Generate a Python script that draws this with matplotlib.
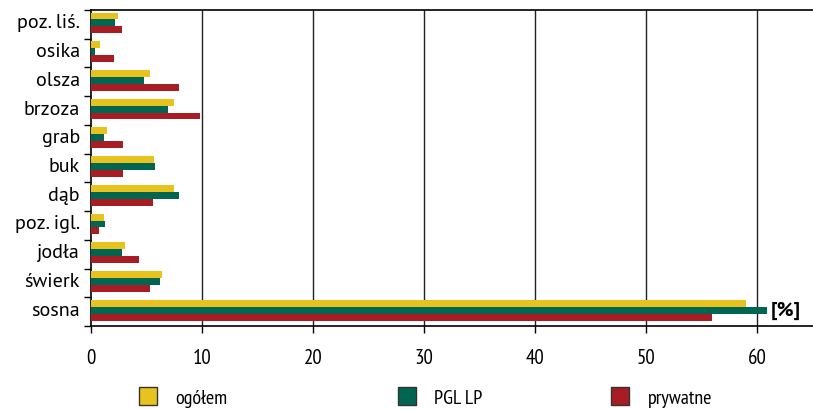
import numpy as np
import matplotlib
matplotlib.use("Agg")
import matplotlib.pyplot as plt
import matplotlib.transforms as mtrans
from matplotlib.patches import Patch

# gatunki od dolu do gory
gatunki = ["sosna", "świerk", "jodła", "poz. igl.", "dąb", "buk",
           "grab", "brzoza", "olsza", "osika", "poz. liś."]
ogolem   = [59.0, 6.35, 3.1, 1.15, 7.45, 5.7, 1.4, 7.45, 5.35, 0.8, 2.4]
pgl_lp   = [60.85, 6.25, 2.75, 1.25, 7.95, 5.8, 1.15, 6.9, 4.75, 0.4, 2.2]
prywatne = [55.95, 5.35, 4.3, 0.7, 5.6, 2.85, 2.85, 9.85, 7.95, 2.1, 2.75]
serie = ["ogółem", "PGL LP", "prywatne"]
kolory = ["#E8C31E", "#006652", "#A81C24"]

plt.rcParams['font.family'] = ['PT Sans', 'DejaVu Sans']
waski = ['PT Sans Narrow', 'DejaVu Sans']

fig = plt.figure(figsize=(8.13, 4.10), dpi=100)
ax = fig.add_axes([91/813, 1-327/410, 1-91/813, 316/410])

y = np.arange(len(gatunki))
h = 0.24
for i, (vals, c) in enumerate(zip([ogolem, pgl_lp, prywatne], kolory)):
    ax.barh(y + 0.05 + (1-i)*h, vals, height=h, color=c, zorder=3)

ax.set_xlim(0, 65)
ax.set_ylim(-0.5, len(gatunki)-0.5)
ax.set_xticks(range(0, 61, 10))
ax.set_yticks(y)
ax.set_yticklabels(gatunki, fontsize=14.5)
ax.set_yticks(np.arange(-0.5, len(gatunki), 1), minor=True)
ax.tick_params(axis='y', which='major', length=0, pad=8)
ax.tick_params(axis='y', which='minor', length=5, direction='out', width=1)
ax.tick_params(axis='x', length=5, width=1, labelsize=15, pad=11)
for lab in ax.get_xticklabels():
    lab.set_fontfamily(waski)
# etykiety gatunkow troche wyzej
przes = mtrans.ScaledTranslation(0, 4/100, fig.dpi_scale_trans)
for lab in ax.get_yticklabels():
    lab.set_transform(lab.get_transform() + przes)
for x in range(10, 61, 10):
    ax.axvline(x, color='#222222', lw=1, zorder=1)
for s in ['top', 'bottom', 'left']:
    ax.spines[s].set_linewidth(1.2)
ax.spines['right'].set_visible(False)

fig.text(786/813, 1-311/410, "[%]", fontsize=14.5, fontweight='bold',
         ha='center', va='center')

pos = [138, 397, 610]
for s, c, px in zip(serie, kolory, pos):
    leg = fig.legend(handles=[Patch(facecolor=c, edgecolor='#333333', lw=1)],
                     labels=[s], loc='center left',
                     bbox_to_anchor=((px-17)/813, 1-398/410), frameon=False,
                     handlelength=0.9, handleheight=1.0,
                     handletextpad=0.9, prop={'family': waski, 'size': 14.5})

fig.savefig("out.png", dpi=100)
